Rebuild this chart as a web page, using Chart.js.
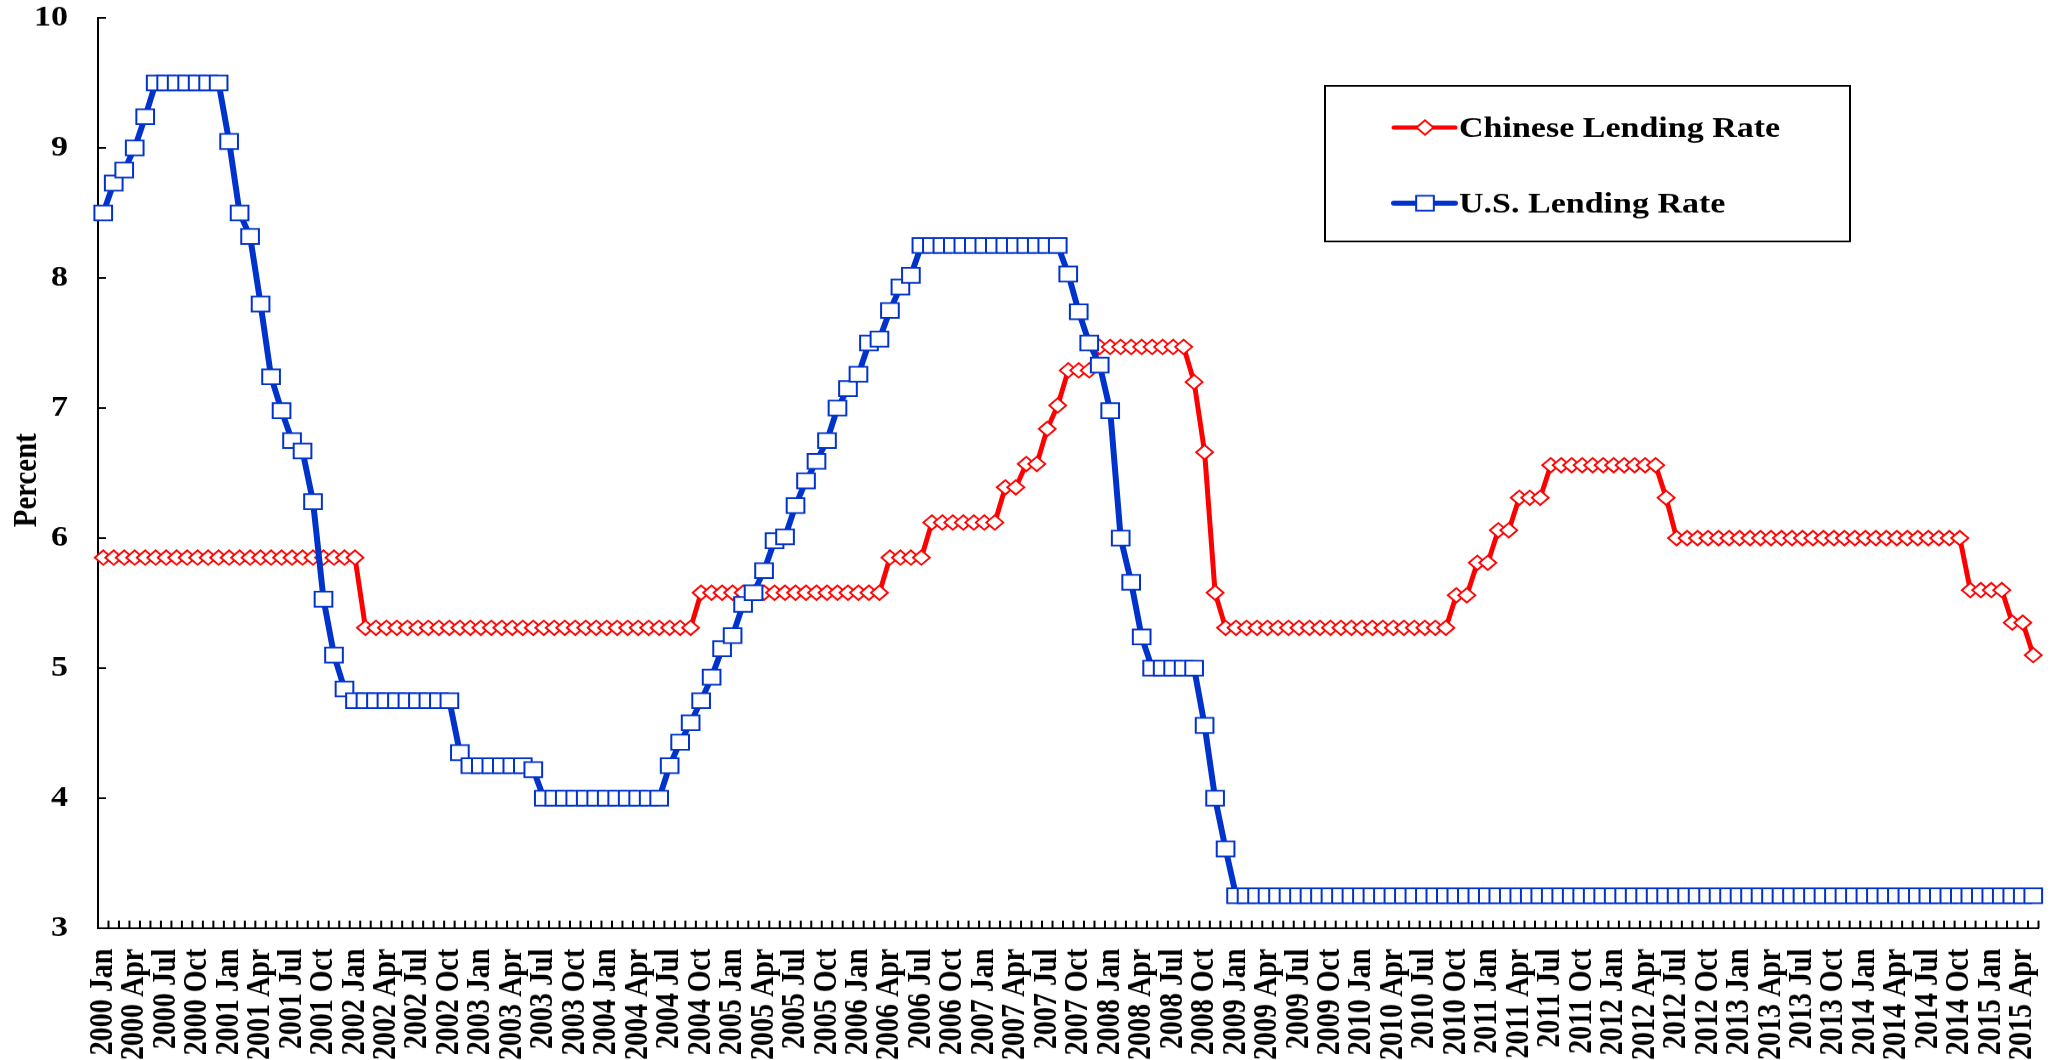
<!DOCTYPE html>
<html>
<head>
<meta charset="utf-8">
<script src="https://cdn.jsdelivr.net/npm/chart.js@4.4.0/dist/chart.umd.min.js"></script>
<style>
  body { margin: 0; background: #fff; overflow: hidden; }
</style>
</head>
<body>
<canvas id="rates" width="2053" height="1247" style="display:block;width:2053px;height:1060px"></canvas>
<script>
// monthly, 2000 Jan .. 2015 May
const years = [2000, 2001, 2002, 2003, 2004, 2005, 2006, 2007, 2008, 2009, 2010, 2011, 2012, 2013, 2014, 2015];
const monthNames = ["Jan", "Feb", "Mar", "Apr", "May", "Jun", "Jul", "Aug", "Sep", "Oct", "Nov", "Dec"];
const lastYearMonths = 5;

const chineseRate = [
  5.85, 5.85, 5.85, 5.85, 5.85, 5.85, 5.85, 5.85, 5.85, 5.85, 5.85, 5.85,
  5.85, 5.85, 5.85, 5.85, 5.85, 5.85, 5.85, 5.85, 5.85, 5.85, 5.85, 5.85,
  5.85, 5.31, 5.31, 5.31, 5.31, 5.31, 5.31, 5.31, 5.31, 5.31, 5.31, 5.31,
  5.31, 5.31, 5.31, 5.31, 5.31, 5.31, 5.31, 5.31, 5.31, 5.31, 5.31, 5.31,
  5.31, 5.31, 5.31, 5.31, 5.31, 5.31, 5.31, 5.31, 5.31, 5.58, 5.58, 5.58,
  5.58, 5.58, 5.58, 5.58, 5.58, 5.58, 5.58, 5.58, 5.58, 5.58, 5.58, 5.58,
  5.58, 5.58, 5.58, 5.85, 5.85, 5.85, 5.85, 6.12, 6.12, 6.12, 6.12, 6.12,
  6.12, 6.12, 6.39, 6.39, 6.57, 6.57, 6.84, 7.02, 7.29, 7.29, 7.29, 7.47,
  7.47, 7.47, 7.47, 7.47, 7.47, 7.47, 7.47, 7.47, 7.20, 6.66, 5.58, 5.31,
  5.31, 5.31, 5.31, 5.31, 5.31, 5.31, 5.31, 5.31, 5.31, 5.31, 5.31, 5.31,
  5.31, 5.31, 5.31, 5.31, 5.31, 5.31, 5.31, 5.31, 5.31, 5.56, 5.56, 5.81,
  5.81, 6.06, 6.06, 6.31, 6.31, 6.31, 6.56, 6.56, 6.56, 6.56, 6.56, 6.56,
  6.56, 6.56, 6.56, 6.56, 6.56, 6.31, 6.00, 6.00, 6.00, 6.00, 6.00, 6.00,
  6.00, 6.00, 6.00, 6.00, 6.00, 6.00, 6.00, 6.00, 6.00, 6.00, 6.00, 6.00,
  6.00, 6.00, 6.00, 6.00, 6.00, 6.00, 6.00, 6.00, 6.00, 6.00, 5.60, 5.60,
  5.60, 5.60, 5.35, 5.35, 5.10
];

const usRate = [
  8.50, 8.73, 8.83, 9.00, 9.24, 9.50, 9.50, 9.50, 9.50, 9.50, 9.50, 9.50,
  9.05, 8.50, 8.32, 7.80, 7.24, 6.98, 6.75, 6.67, 6.28, 5.53, 5.10, 4.84,
  4.75, 4.75, 4.75, 4.75, 4.75, 4.75, 4.75, 4.75, 4.75, 4.75, 4.35, 4.25,
  4.25, 4.25, 4.25, 4.25, 4.25, 4.22, 4.00, 4.00, 4.00, 4.00, 4.00, 4.00,
  4.00, 4.00, 4.00, 4.00, 4.00, 4.00, 4.25, 4.43, 4.58, 4.75, 4.93, 5.15,
  5.25, 5.49, 5.58, 5.75, 5.98, 6.01, 6.25, 6.44, 6.59, 6.75, 7.00, 7.15,
  7.26, 7.50, 7.53, 7.75, 7.93, 8.02, 8.25, 8.25, 8.25, 8.25, 8.25, 8.25,
  8.25, 8.25, 8.25, 8.25, 8.25, 8.25, 8.25, 8.25, 8.03, 7.74, 7.50, 7.33,
  6.98, 6.00, 5.66, 5.24, 5.00, 5.00, 5.00, 5.00, 5.00, 4.56, 4.00, 3.61,
  3.25, 3.25, 3.25, 3.25, 3.25, 3.25, 3.25, 3.25, 3.25, 3.25, 3.25, 3.25,
  3.25, 3.25, 3.25, 3.25, 3.25, 3.25, 3.25, 3.25, 3.25, 3.25, 3.25, 3.25,
  3.25, 3.25, 3.25, 3.25, 3.25, 3.25, 3.25, 3.25, 3.25, 3.25, 3.25, 3.25,
  3.25, 3.25, 3.25, 3.25, 3.25, 3.25, 3.25, 3.25, 3.25, 3.25, 3.25, 3.25,
  3.25, 3.25, 3.25, 3.25, 3.25, 3.25, 3.25, 3.25, 3.25, 3.25, 3.25, 3.25,
  3.25, 3.25, 3.25, 3.25, 3.25, 3.25, 3.25, 3.25, 3.25, 3.25, 3.25, 3.25,
  3.25, 3.25, 3.25, 3.25, 3.25
];

const yTicks = [3, 4, 5, 6, 7, 8, 9, 10];
const labelEvery = 3;

let categories = [];
years.forEach((yr, k) => {
  const n = k === years.length - 1 ? lastYearMonths : 12;
  for (let m = 0; m < n; m++) categories.push(yr + " " + monthNames[m]);
});

const serif = '"Liberation Serif", "Times New Roman", serif';
const RED = "#ff0000";
const BLUE = "#0033cc";

// Excel-like tick marks pointing into the plot
const innerTicks = {
  id: "innerTicks",
  afterDraw(chart) {
    const ctx = chart.ctx;
    const x = chart.scales.x, y = chart.scales.y;
    const step = x.getPixelForValue(1) - x.getPixelForValue(0);
    ctx.save();
    ctx.strokeStyle = "#000";
    ctx.lineWidth = 2;
    ctx.beginPath();
    for (let i = 0; i <= categories.length; i++) {
      const px = x.getPixelForValue(0) - step / 2 + i * step;
      ctx.moveTo(px, y.bottom);
      ctx.lineTo(px, y.bottom - 9);
    }
    yTicks.forEach(v => {
      const py = y.getPixelForValue(v);
      ctx.moveTo(x.left, py);
      ctx.lineTo(x.left + 8, py);
    });
    ctx.stroke();
    ctx.restore();
  }
};

// boxed legend inside the plot, top right
const boxLegend = {
  id: "boxLegend",
  afterDraw(chart) {
    const ctx = chart.ctx;
    const box = { left: 1325, top: 101, right: 1850, bottom: 284 };
    ctx.save();
    ctx.fillStyle = "#fff";
    ctx.fillRect(box.left, box.top, box.right - box.left, box.bottom - box.top);
    ctx.strokeStyle = "#000";
    ctx.lineWidth = 2;
    ctx.strokeRect(box.left, box.top, box.right - box.left, box.bottom - box.top);
    const rows = [150, 239];
    chart.data.datasets.forEach((ds, i) => {
      const cy = rows[i];
      ctx.strokeStyle = ds.borderColor;
      ctx.lineWidth = ds.borderWidth;
      ctx.lineCap = "round";
      ctx.beginPath();
      ctx.moveTo(1394, cy);
      ctx.lineTo(1455, cy);
      ctx.stroke();
      const r = ds.pointRadius;
      ctx.fillStyle = "#fff";
      ctx.strokeStyle = ds.pointBorderColor;
      ctx.lineWidth = ds.pointBorderWidth;
      ctx.beginPath();
      if (ds.pointStyle === "rectRot") {
        ctx.moveTo(1425 - r, cy); ctx.lineTo(1425, cy - r);
        ctx.lineTo(1425 + r, cy); ctx.lineTo(1425, cy + r);
      } else {
        const s = r * Math.SQRT1_2;
        ctx.rect(1425 - s, cy - s, 2 * s, 2 * s);
      }
      ctx.closePath();
      ctx.fill();
      ctx.stroke();
      ctx.fillStyle = "#000";
      ctx.font = "bold 34px " + serif;
      ctx.textBaseline = "middle";
      ctx.fillText(ds.label, 1459, cy + 2);
    });
    ctx.restore();
  }
};

new Chart(document.getElementById("rates"), {
  type: "line",
  data: {
    labels: categories,
    datasets: [
      {
        label: "Chinese Lending Rate",
        data: chineseRate,
        borderColor: RED,
        borderWidth: 5,
        pointStyle: "rectRot",
        pointRadius: 8.5,
        pointBorderWidth: 2,
        pointBorderColor: RED,
        pointBackgroundColor: "#fff",
        tension: 0,
        order: 1
      },
      {
        label: "U.S. Lending Rate",
        data: usRate,
        borderColor: BLUE,
        borderWidth: 6,
        pointStyle: "rect",
        pointRadius: 12.5,
        pointBorderWidth: 2,
        pointBorderColor: BLUE,
        pointBackgroundColor: "#fff",
        tension: 0,
        order: 0
      }
    ]
  },
  options: {
    responsive: false,
    devicePixelRatio: 1,
    animation: false,
    events: [],
    layout: { padding: { top: 21, right: 13, bottom: 0, left: 0 } },
    plugins: {
      legend: { display: false },
      tooltip: { enabled: false }
    },
    scales: {
      x: {
        offset: true,
        grid: { display: true, drawOnChartArea: false, drawTicks: false, offset: true },
        border: { display: true, color: "#000", width: 2 },
        ticks: {
          autoSkip: false,
          minRotation: 90,
          maxRotation: 90,
          padding: 24,
          color: "#000",
          font: { family: serif, size: 33, weight: "bold" },
          callback: (v, i) => (i % labelEvery === 0 ? categories[i] : "")
        },
        afterFit: s => {
          s.height = 155;
          s.paddingLeft = 0;
          s.paddingRight = 0;
        }
      },
      y: {
        min: 3,
        max: 10,
        grid: { display: true, drawOnChartArea: false, drawTicks: false },
        border: { display: true, color: "#000", width: 2 },
        ticks: { stepSize: 1, padding: 30, color: "#000", font: { family: serif, size: 34, weight: "bold" } },
        title: {
          display: true,
          text: "Percent  ",
          color: "#000",
          font: { family: serif, size: 34, weight: "bold" },
          padding: { top: 7, bottom: 0 }
        },
        afterFit: s => {
          s.width = 98;
          s.paddingTop = 0;
          s.paddingBottom = 0;
        }
      }
    }
  },
  plugins: [innerTicks, boxLegend]
});
</script>
</body>
</html>
